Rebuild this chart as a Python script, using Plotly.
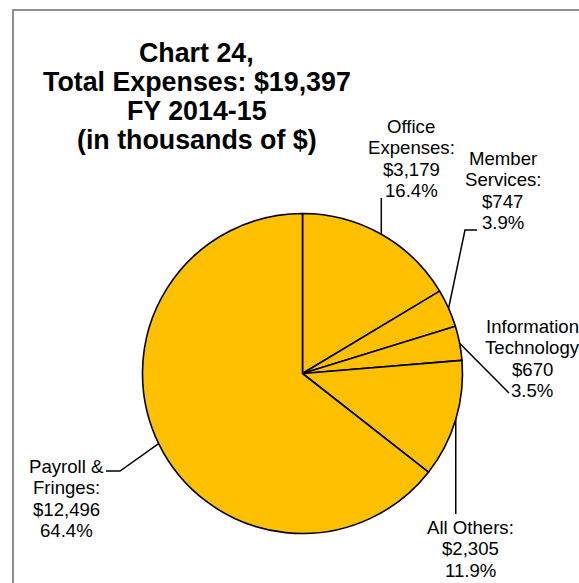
import math
import plotly.graph_objects as go

# ---- data ----
categories = ["Office Expenses", "Member Services", "Information Technology", "All Others", "Payroll & Fringes"]
values = [3179, 747, 670, 2305, 12496]
label_lines = [["Office", "Expenses:"], ["Member", "Services:"], ["Information", "Technology"],
               ["All Others:"], ["Payroll &", "Fringes:"]]
title_lines = ["Chart 24,", "Total Expenses: $19,397", "FY 2014-15", "(in thousands of $)"]

# ---- layout constants (pixels) ----
W, H = 579, 583
CX, CY, R = 302.5, 373.5, 160
FONT = "Liberation Sans, Arial, sans-serif"
TITLE_SIZE = 26.8
LBL_SIZE = 18.6
LBL_STEP = 21.3
# label centre x, first baseline y, extra leader points after the anchor
label_style = [
    dict(cx=411, b0=133, path=lambda ax, ay: [(ax, 198)]),
    dict(cx=502.5, b0=165, path=lambda ax, ay: [(465, 230), (477, 230)]),
    dict(cx=532, b0=333, path=lambda ax, ay: [(509, 393)]),
    dict(cx=470, b0=534, path=lambda ax, ay: [(ax, 514)]),
    dict(cx=66, b0=473, path=lambda ax, ay: [(120, 471), (106, 471)]),
]

total = sum(values)

fig = go.Figure()
fig.add_trace(go.Pie(
    labels=categories, values=values, sort=False, direction="clockwise", rotation=0,
    textinfo="none", hoverinfo="label+value+percent",
    marker=dict(colors=["#FFC000"] * len(values), line=dict(color="black", width=1.6)),
    domain=dict(x=[(CX - R) / W, (CX + R) / W], y=[(H - CY - R) / H, (H - CY + R) / H]),
    showlegend=False,
))
# invisible pixel-coordinate axes for labels and leader lines
fig.add_trace(go.Scatter(x=[0, W], y=[0, H], mode="markers", marker=dict(opacity=0),
                         hoverinfo="skip", showlegend=False))

annotations = []
shapes = []

# title
for i, t in enumerate(title_lines):
    base = 62 + i * 29
    annotations.append(dict(x=196.5, y=base - 0.35 * TITLE_SIZE, xref="x", yref="y", text="<b>%s</b>" % t,
                            showarrow=False, xanchor="center", yanchor="middle",
                            font=dict(family=FONT, size=TITLE_SIZE, color="black")))

# labels and leader lines
cum = 0
for cat, v, lines, st in zip(categories, values, label_lines, label_style):
    mid = (cum + v / 2) / total * 2 * math.pi
    cum += v
    ax, ay = CX + R * math.sin(mid), CY - R * math.cos(mid)
    txt = lines + ["${:,}".format(v), "{:.1f}%".format(v / total * 100)]
    for j, t in enumerate(txt):
        base = st["b0"] + j * LBL_STEP
        annotations.append(dict(x=st["cx"], y=base - 0.35 * LBL_SIZE, xref="x", yref="y", text=t,
                                showarrow=False, xanchor="center", yanchor="middle",
                                font=dict(family=FONT, size=LBL_SIZE, color="black")))
    pts = [(ax, ay)] + st["path"](ax, ay)
    d = "M %.2f %.2f " % pts[0] + " ".join("L %.2f %.2f" % p for p in pts[1:])
    shapes.append(dict(type="path", path=d, xref="x", yref="y", line=dict(color="black", width=1.5)))

# outer frame
shapes.append(dict(type="rect", x0=13, y0=10, x1=W + 20, y1=H + 20, xref="x", yref="y",
                   line=dict(color="#909090", width=2)))

fig.update_layout(
    width=W, height=H, margin=dict(l=0, r=0, t=0, b=0),
    paper_bgcolor="white", plot_bgcolor="rgba(0,0,0,0)",
    xaxis=dict(range=[0, W], visible=False, fixedrange=True, domain=[0, 1]),
    yaxis=dict(range=[H, 0], visible=False, fixedrange=True, domain=[0, 1]),
    annotations=annotations, shapes=shapes,
)
fig.write_html("out.html", config={"displayModeBar": False},
               post_script="document.body.style.margin='0';document.body.style.overflow='hidden';")
